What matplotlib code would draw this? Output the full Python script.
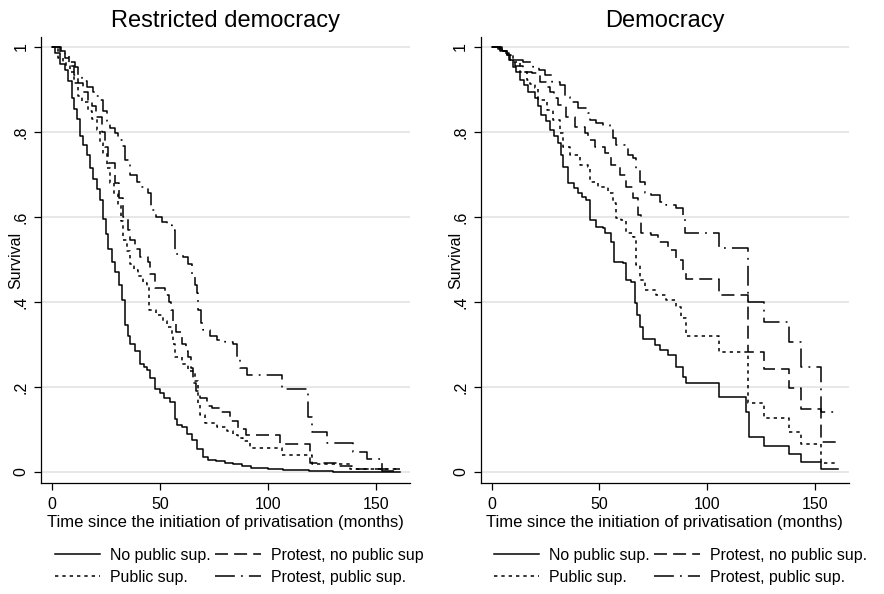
import matplotlib
matplotlib.use('Agg')
import matplotlib.pyplot as plt
from matplotlib.transforms import Bbox, TransformedBbox

plt.rcParams['font.family'] = ['Liberation Sans', 'DejaVu Sans']

panel_titles = ['Restricted democracy', 'Democracy']
series_labels = ['No public sup.', 'Protest, no public sup.', 'Public sup.', 'Protest, public sup.']
x_ticks = [0, 50, 100, 150]
y_ticks = [0, 0.2, 0.4, 0.6, 0.8, 1.0]
y_ticklabels = ['0', '.2', '.4', '.6', '.8', '1']
x_label = 'Time since the initiation of privatisation (months)'
y_label = 'Survival'

# Restricted democracy: (months, survival) step points
rd_nopub = [(0,1.0),(1.5,0.985),(3.7,0.96),(6,0.945),(7.6,0.92),(9.1,0.88),(10.3,0.855),(11.4,0.83),(13,0.79),(14.5,0.77),(16,0.745),(17.5,0.715),(19.1,0.69),(20.7,0.665),(22.2,0.64),(23.8,0.595),(25,0.56),(26.1,0.525),(27.6,0.495),(29.2,0.47),(30.8,0.44),(32.3,0.405),(33.8,0.345),(35,0.32),(36.1,0.30),(38.3,0.285),(40.7,0.255),(42.5,0.248),(44,0.24),(45.4,0.22),(47.7,0.195),(50,0.185),(52,0.175),(54.6,0.165),(56.9,0.125),(58,0.11),(60,0.105),(62.3,0.09),(65,0.075),(67,0.055),(70,0.035),(72,0.028),(76,0.025),(80,0.022),(84,0.018),(88,0.014),(92,0.01),(100,0.008),(107,0.005),(119,0.002),(130,0.001),(161,0.001)]
rd_pub = [(0,1.0),(3,0.975),(5,0.965),(6.5,0.955),(8.3,0.94),(10,0.915),(12.2,0.885),(14,0.87),(16.8,0.85),(18.5,0.83),(20.7,0.805),(22.3,0.775),(23.8,0.75),(25.5,0.715),(26.9,0.68),(28.8,0.655),(30.7,0.63),(32,0.59),(33,0.545),(34.5,0.52),(36,0.49),(38,0.475),(40,0.46),(42,0.445),(44,0.435),(44.9,0.38),(48,0.37),(51.5,0.355),(53,0.34),(55.4,0.325),(56,0.30),(57,0.27),(60,0.255),(63.1,0.238),(66.2,0.215),(67.7,0.16),(68.5,0.134),(71,0.115),(76.2,0.105),(80.9,0.097),(84,0.088),(86.3,0.08),(88.5,0.072),(91.7,0.056),(106.3,0.04),(120.2,0.018),(138,0.008),(161,0.008)]
rd_prot_nopub = [(0,1.0),(3.5,0.985),(6,0.975),(8,0.955),(10,0.935),(12,0.915),(14.5,0.895),(16.7,0.875),(18.5,0.86),(20.5,0.835),(23,0.80),(24.5,0.765),(26,0.727),(29,0.68),(31,0.645),(32.8,0.60),(35,0.57),(36,0.546),(38.5,0.525),(40.7,0.507),(44.6,0.495),(45.4,0.467),(47.7,0.433),(52.3,0.416),(54,0.40),(55,0.38),(56.2,0.35),(57.5,0.33),(60,0.30),(62,0.285),(63,0.27),(64.5,0.245),(65.4,0.21),(66.5,0.19),(68.5,0.175),(71.6,0.155),(74,0.15),(77.8,0.14),(82.4,0.12),(86.3,0.10),(90,0.087),(105.6,0.066),(119.4,0.022),(133,0.015),(138.7,0.008),(161,0.008)]
rd_prot_pub = [(0,1.0),(4,0.99),(6,0.98),(8,0.965),(10.6,0.954),(12,0.935),(13.7,0.919),(16,0.905),(19,0.895),(20.5,0.885),(22,0.875),(23.5,0.85),(25.3,0.82),(27,0.81),(29,0.797),(30.5,0.78),(32.3,0.766),(33.8,0.734),(36,0.699),(39.2,0.683),(41,0.67),(44.6,0.656),(46,0.617),(48,0.60),(50.8,0.589),(53,0.58),(55.4,0.57),(57,0.514),(60.8,0.506),(63,0.49),(64.7,0.467),(66,0.44),(67,0.42),(67.7,0.38),(69,0.35),(70,0.333),(73,0.32),(76.2,0.31),(80,0.305),(84,0.30),(85.5,0.27),(87,0.245),(90.1,0.228),(106.3,0.195),(118.7,0.13),(120.2,0.095),(127.2,0.069),(139.5,0.048),(145.7,0.03),(152.6,0.003),(161,0.003)]

# Democracy
d_nopub = [(0,1.0),(3,0.995),(5,0.99),(6.9,0.981),(8.5,0.97),(10,0.954),(11.5,0.94),(13.1,0.922),(15,0.91),(17,0.895),(20,0.879),(21.5,0.86),(23.1,0.84),(25,0.825),(27,0.805),(29,0.79),(30.8,0.773),(32,0.745),(33.1,0.718),(35.5,0.679),(38,0.668),(40.1,0.656),(42,0.648),(44,0.64),(45.5,0.593),(48.6,0.577),(51.7,0.573),(52.5,0.562),(55.6,0.54),(57,0.495),(61,0.491),(62.5,0.452),(64.8,0.448),(66.3,0.397),(67.5,0.37),(68.7,0.342),(70.2,0.312),(75.6,0.299),(77.9,0.287),(81.8,0.275),(85.6,0.248),(88.7,0.224),(90.3,0.21),(105.7,0.176),(118,0.142),(119.6,0.083),(126.5,0.06),(138,0.042),(143.5,0.024),(152.8,0.006),(160.8,0.006)]
d_pub = [(0,1.0),(4,0.99),(7,0.98),(10,0.965),(13.1,0.942),(16.2,0.922),(18,0.912),(20,0.903),(21.6,0.875),(25.5,0.852),(28.5,0.828),(31.6,0.797),(33.1,0.765),(36.2,0.746),(40.9,0.722),(44.7,0.718),(45.5,0.683),(49.4,0.671),(54,0.656),(56.3,0.632),(57.9,0.597),(60.2,0.593),(62.5,0.562),(65.6,0.554),(67.1,0.487),(68.7,0.452),(71,0.428),(76.4,0.416),(81,0.405),(85.6,0.389),(88,0.362),(90.3,0.32),(105.7,0.283),(118.8,0.162),(126.5,0.128),(138,0.095),(143.5,0.066),(152.8,0.022),(160.5,0.022)]
d_prot_nopub = [(0,1.0),(4,0.99),(6,0.985),(8,0.97),(11,0.955),(14.6,0.942),(18.5,0.938),(22.4,0.918),(25,0.905),(27,0.895),(29,0.88),(30.8,0.864),(34.7,0.836),(38.6,0.812),(43.2,0.797),(44.7,0.781),(47.8,0.765),(52.5,0.75),(55.6,0.722),(59.4,0.699),(62.5,0.671),(65.6,0.644),(67.9,0.605),(69.4,0.562),(74,0.558),(77.1,0.542),(81.8,0.522),(85.6,0.499),(88.7,0.471),(90.3,0.454),(105.7,0.416),(118.8,0.283),(126.5,0.242),(138,0.197),(143.5,0.148),(152.8,0.07),(160.5,0.07)]
d_prot_pub = [(0,1.0),(5,0.99),(7,0.98),(9,0.97),(14.6,0.965),(19.3,0.954),(22,0.945),(24.7,0.934),(27.8,0.918),(31.6,0.911),(33.9,0.883),(36.2,0.871),(40.1,0.856),(44.7,0.844),(45.5,0.828),(48.6,0.82),(51.7,0.816),(54.8,0.805),(56.3,0.785),(57.9,0.769),(61.7,0.765),(63.2,0.746),(65.6,0.738),(67.1,0.711),(68.7,0.683),(71,0.656),(74,0.652),(77.9,0.635),(81,0.628),(85.6,0.62),(88.7,0.597),(89.5,0.562),(105.7,0.526),(118.8,0.40),(126.5,0.352),(138,0.307),(143.5,0.248),(152.8,0.142),(160.5,0.142)]

panels = [
    {'No public sup.': rd_nopub, 'Protest, no public sup.': rd_prot_nopub,
     'Public sup.': rd_pub, 'Protest, public sup.': rd_prot_pub},
    {'No public sup.': d_nopub, 'Protest, no public sup.': d_prot_nopub,
     'Public sup.': d_pub, 'Protest, public sup.': d_prot_pub},
]

styles = {
    'No public sup.': '-',
    'Protest, no public sup.': (0, (8.5, 4)),
    'Public sup.': (0, (2.2, 2.6)),
    'Protest, public sup.': (0, (13, 4, 1.2, 4)),
}
legend_order = ['No public sup.', 'Public sup.', 'Protest, no public sup.', 'Protest, public sup.']

W, H = 884, 594
fig = plt.figure(figsize=(W / 100, H / 100), dpi=100)
fig.patch.set_facecolor('white')

ax_lefts = [41, 480.7]
ax_widths = [369, 368]
legend_x = [55, 494]

for i, ax_left in enumerate(ax_lefts):
    ax = fig.add_axes([ax_left / W, 1 - 483 / H, ax_widths[i] / W, 446 / H])
    handles = {}
    for name in series_labels:
        pts = panels[i][name]
        t = [p[0] for p in pts]
        s = [p[1] for p in pts]
        ln, = ax.plot(t, s, drawstyle='steps-post', color='black', lw=1.1,
                      linestyle=styles[name], label=name)
        handles[name] = ln
    ax.set_xlim(-5.1, 165.7)
    ax.set_ylim(-0.0259, 1.0235)
    ax.set_xticks(x_ticks)
    ax.set_xticklabels([str(v) for v in x_ticks], fontsize=11.5)
    ax.set_yticks(y_ticks)
    ax.set_yticklabels(y_ticklabels, fontsize=11.5, rotation=90, va='center')
    ax.tick_params(axis='both', direction='out', length=5, width=0.9, color='black')
    ax.tick_params(axis='x', pad=5)
    ax.tick_params(axis='y', pad=4)
    for sp in ['top', 'right']:
        ax.spines[sp].set_visible(False)
    for sp in ['left', 'bottom']:
        ax.spines[sp].set_linewidth(0.9)
    ax.yaxis.grid(True, color='#e3e3e3', lw=1.2)
    ax.set_axisbelow(True)
    ax.set_title(panel_titles[i], fontsize=17, pad=7)
    ax.set_xlabel(x_label, fontsize=12, labelpad=2.5)
    ax.set_ylabel(y_label, fontsize=11.5)
    ax.yaxis.set_label_coords(-0.048, 0.5)

    leg = fig.legend([handles[n] for n in legend_order], legend_order,
                     loc='upper left', bbox_to_anchor=(legend_x[i] / W, 1 - 548 / H),
                     bbox_transform=fig.transFigure, ncol=2, frameon=False,
                     fontsize=11.4, handlelength=2.85, handletextpad=0.63,
                     columnspacing=0.3, labelspacing=0.42, borderpad=0,
                     borderaxespad=0)
    if i == 0:
        clip = TransformedBbox(Bbox.from_extents(0, 0, 425 / W, 1), fig.transFigure)
        for txt in leg.get_texts():
            txt.set_clip_box(clip)
            txt.set_clip_on(True)

fig.savefig('out.png', dpi=100, facecolor='white')
